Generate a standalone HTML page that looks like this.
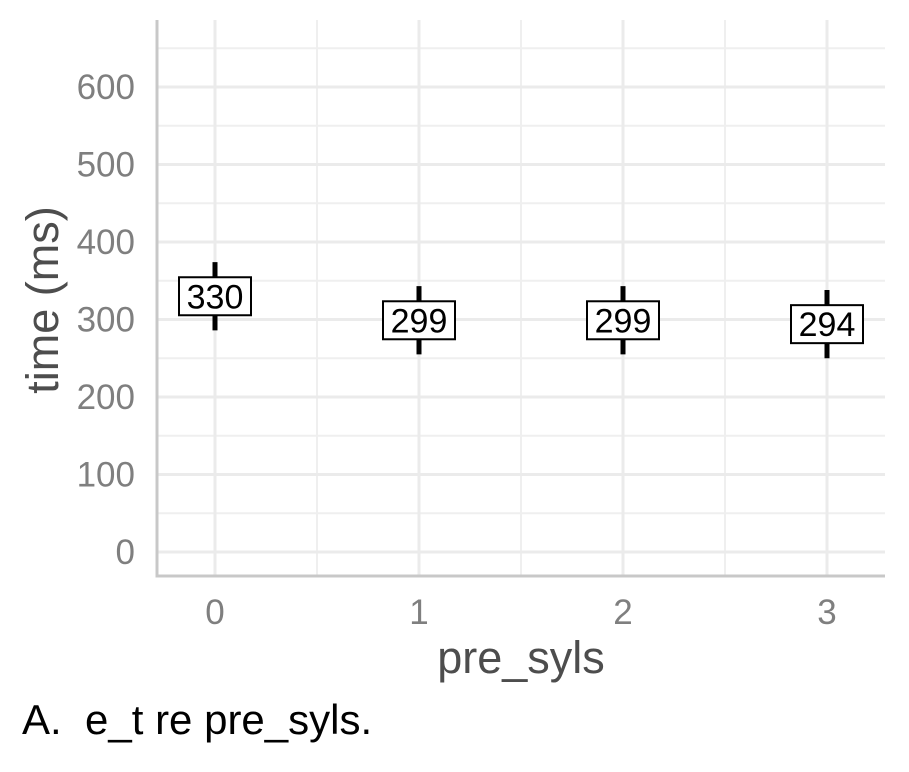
<!DOCTYPE html>
<html><head><meta charset="utf-8"><style>
body{margin:0;background:#fff;width:909px;height:767px;overflow:hidden;font-family:"Liberation Sans",Arial,sans-serif}
</style></head><body>
<svg width="909" height="767" font-family="Liberation Sans, Arial, sans-serif">
<g id="grid"></g>
<g id="marks"></g>
<text x="58" y="300" transform="rotate(-90 58 300)" text-anchor="middle" font-size="45" fill="#4d4d4d">time (ms)</text>
<text x="521" y="673" text-anchor="middle" font-size="45" fill="#4d4d4d">pre_syls</text>
<text x="22" y="734" font-size="42" fill="#000" xml:space="preserve">A.  e_t re pre_syls.</text>
</svg>
<script>
const categories=["0","1","2","3"];
const means=[330,299,299,294];
const lows=[286,255,255,250];
const highs=[374,343,343,338];
const yTicks=[0,100,200,300,400,500,600];
const NS="http://www.w3.org/2000/svg";
const L=157,R=885,T=20,B=576;
const y=v=>552-v*0.775;
const x=i=>215+i*204;
function mk(tag,attrs,parent){const e=document.createElementNS(NS,tag);for(const k in attrs)e.setAttribute(k,attrs[k]);parent.appendChild(e);return e;}
const g=document.getElementById('grid'),m=document.getElementById('marks');
for(let v=50;v<=650;v+=100){const l=mk('line',{x1:L,x2:R,y1:y(v),y2:y(v),stroke:'#efefef','stroke-width':2},g);

}
for(let i=0;i<categories.length-1;i++){const l=mk('line',{x1:x(i+0.5),x2:x(i+0.5),y1:T,y2:B,stroke:'#efefef','stroke-width':2},g);

}
yTicks.forEach(v=>{const l=mk('line',{x1:L,x2:R,y1:y(v),y2:y(v),stroke:'#ebebeb','stroke-width':3},g);


const t=mk('text',{x:135,y:y(v)+12,'text-anchor':'end','font-size':35,fill:'#7f7f7f'},g);t.textContent=v;

});
categories.forEach((c,i)=>{const l=mk('line',{x1:x(i),x2:x(i),y1:T,y2:B,stroke:'#ebebeb','stroke-width':3},g);


const t=mk('text',{x:x(i),y:624,'text-anchor':'middle','font-size':35,fill:'#7f7f7f'},g);t.textContent=c;

});
const ax=mk('line',{x1:L,x2:L,y1:T,y2:B+1.5,stroke:'#c8c8c8','stroke-width':3},g);


const axx=mk('line',{x1:L-1.5,x2:R,y1:B,y2:B,stroke:'#c8c8c8','stroke-width':3},g);


categories.forEach((c,i)=>{
const e=mk('line',{x1:x(i),x2:x(i),y1:y(highs[i]),y2:y(lows[i]),stroke:'#000','stroke-width':5},m);


const r=mk('rect',{x:x(i)-36,y:y(means[i])-19,width:72,height:38,fill:'#fff',stroke:'#000','stroke-width':2},m);


const t=mk('text',{x:x(i),y:y(means[i])+12,'text-anchor':'middle','font-size':34,fill:'#000'},m);t.textContent=means[i];

});
</script>
</body></html>
